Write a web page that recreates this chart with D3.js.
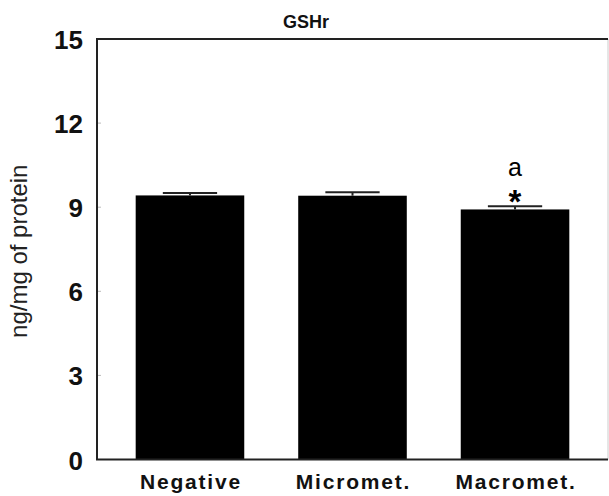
<!DOCTYPE html>
<html>
<head>
<meta charset="utf-8">
<script src="https://cdn.jsdelivr.net/npm/d3@7"></script>
<style>
  body { margin: 0; background: #fff; }
  svg { display: block; font-family: "Liberation Sans", Arial, Helvetica, sans-serif; }
</style>
</head>
<body>
<div id="chart"></div>
<script>
const groups = ["Negative", "Micromet.", "Macromet."];
const means = [9.42, 9.41, 8.92];
const errors = [0.09, 0.12, 0.11];
const marks = ["", "", "a"];
const stars = [false, false, true];
const yTicks = [0, 3, 6, 9, 12, 15];

const width = 609;
const height = 496;
const plot = { left: 97, right: 608, top: 39, bottom: 459.5 };

const svg = d3.select("#chart")
  .append("svg")
  .attr("width", width)
  .attr("height", height);

const x = d3.scaleBand()
  .domain(groups)
  .range([plot.left, plot.right])
  .paddingInner(0.332)
  .paddingOuter(0.238);

const y = d3.scaleLinear()
  .domain([0, 15])
  .range([plot.bottom, plot.top]);

// small grey ticks inside the frame
svg.append("g")
  .selectAll("line")
  .data(yTicks.slice(1, -1))
  .join("line")
  .attr("x1", plot.left)
  .attr("x2", plot.left + 4)
  .attr("y1", (d) => y(d))
  .attr("y2", (d) => y(d))
  .attr("stroke", "#bbb")
  .attr("stroke-width", 1);

// tick labels
svg.append("g")
  .selectAll("text")
  .data(yTicks)
  .join("text")
  .attr("x", plot.left - 14)
  .attr("y", (d) => y(d) + 10)
  .attr("text-anchor", "end")
  .style("font-size", "26px")
  .style("font-weight", "bold")
  .attr("fill", "#111")
  .text((d) => d);

// bars
svg.append("g")
  .selectAll("rect")
  .data(groups)
  .join("rect")
  .attr("x", (d) => x(d))
  .attr("width", x.bandwidth())
  .attr("y", (d, i) => y(means[i]))
  .attr("height", (d, i) => y(0) - y(means[i]))
  .attr("fill", "#000");

// error bars, upper half only
const err = svg.append("g")
  .attr("stroke", "#222")
  .attr("stroke-width", 2);
groups.forEach((g, i) => {
  const cx = x(g) + x.bandwidth() / 2;
  const capHalf = x.bandwidth() / 4;
  err.append("line")
    .attr("x1", cx).attr("x2", cx)
    .attr("y1", y(means[i])).attr("y2", y(means[i] + errors[i]));
  err.append("line")
    .attr("x1", cx - capHalf).attr("x2", cx + capHalf)
    .attr("y1", y(means[i] + errors[i])).attr("y2", y(means[i] + errors[i]));
});

// significance marks
groups.forEach((g, i) => {
  const cx = x(g) + x.bandwidth() / 2;
  const top = y(means[i] + errors[i]);
  if (stars[i]) {
    svg.append("text")
      .attr("x", cx)
      .attr("y", top + 7)
      .attr("text-anchor", "middle")
      .style("font-size", "33px")
      .style("font-weight", "bold")
      .text("*");
  }
  if (marks[i]) {
    svg.append("text")
      .attr("x", cx)
      .attr("y", top - 30)
      .attr("text-anchor", "middle")
      .style("font-size", "25px")
      .text(marks[i]);
  }
});

// frame
svg.append("line")
  .attr("x1", plot.right).attr("x2", plot.right)
  .attr("y1", plot.top).attr("y2", plot.bottom)
  .attr("stroke", "#ccc").attr("stroke-width", 1);
svg.append("path")
  .attr("d", `M${plot.right},${plot.top}H${plot.left}V${plot.bottom}H${plot.right}`)
  .attr("fill", "none")
  .attr("stroke", "#222")
  .attr("stroke-width", 2);

// category labels
svg.append("g")
  .selectAll("text")
  .data(groups)
  .join("text")
  .attr("x", (d) => x(d) + x.bandwidth() / 2 + 1)
  .attr("y", 489)
  .attr("text-anchor", "middle")
  .style("font-size", "21px")
  .style("font-weight", "bold")
  .style("letter-spacing", "1.8px")
  .attr("fill", "#111")
  .text((d) => d);

// title
svg.append("text")
  .attr("x", 306)
  .attr("y", 28)
  .attr("text-anchor", "middle")
  .style("font-size", "18px")
  .style("font-weight", "bold")
  .attr("fill", "#111")
  .text("GSHr");

// y axis title
svg.append("text")
  .attr("transform", `translate(27,${(plot.top + plot.bottom) / 2 + 2}) rotate(-90)`)
  .attr("text-anchor", "middle")
  .style("font-size", "24px")
  .attr("fill", "#222")
  .text("ng/mg of protein");
</script>
</body>
</html>
